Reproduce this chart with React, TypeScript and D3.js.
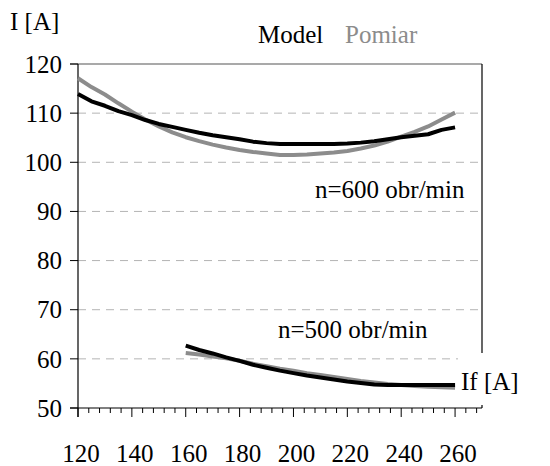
import * as d3 from 'd3'

// current I [A] vs field current If [A]
const ifModel600 = [120, 125, 130, 135, 140, 145, 150, 155, 160, 165, 170, 175, 180, 185, 190, 195, 200, 205, 210, 215, 220, 225, 230, 235, 240, 245, 250, 255, 260]
const model600 = [113.9, 112.4, 111.5, 110.4, 109.6, 108.6, 107.8, 107.2, 106.6, 106.0, 105.5, 105.1, 104.7, 104.2, 103.9, 103.7, 103.7, 103.7, 103.7, 103.7, 103.8, 104.0, 104.3, 104.7, 105.1, 105.4, 105.7, 106.6, 107.1]
const pomiar600 = [117.1, 115.3, 113.8, 112.0, 110.3, 108.7, 107.3, 106.1, 105.1, 104.3, 103.6, 103.0, 102.5, 102.1, 101.8, 101.5, 101.5, 101.6, 101.8, 102.0, 102.3, 102.8, 103.4, 104.2, 105.2, 106.2, 107.3, 108.7, 110.1]

const if500 = [160, 165, 170, 175, 180, 185, 190, 195, 200, 205, 210, 215, 220, 225, 230, 235, 240, 245, 250, 255, 260]
const model500 = [62.7, 61.8, 61.1, 60.3, 59.6, 58.8, 58.2, 57.6, 57.1, 56.6, 56.2, 55.8, 55.4, 55.1, 54.8, 54.7, 54.7, 54.7, 54.7, 54.7, 54.7]
const pomiar500 = [61.2, 60.9, 60.5, 60.1, 59.6, 59.0, 58.5, 58.0, 57.6, 57.1, 56.7, 56.3, 55.9, 55.5, 55.2, 54.9, 54.7, 54.5, 54.3, 54.2, 54.1]

const yTicks = [50, 60, 70, 80, 90, 100, 110, 120]
const xLabels = [120, 140, 160, 180, 200, 220, 240, 260]

const FONT = '"Liberation Serif", "Times New Roman", serif'

export default function App() {
  const x = d3.scaleLinear().domain([120, 270]).range([78, 482])
  const y = d3.scaleLinear().domain([50, 120]).range([408, 64])

  const line = (xs: number[]) =>
    d3.line<number>()
      .x((_, i) => x(xs[i]))
      .y(d => y(d))

  const minorTicks = d3.range(120, 270, 4)

  return (
    <svg width={550} height={466} style={{ position: 'absolute', left: 0, top: 0, background: '#fff' }}>
      {/* grid */}
      {yTicks.filter(t => t > 50 && t < 120).map(t => (
        <line key={t} x1={78} x2={482} y1={y(t)} y2={y(t)} stroke='#b4b4b4' strokeWidth={1} strokeDasharray='8,6' />
      ))}

      {/* frame */}
      <line x1={70} x2={482} y1={64} y2={64} stroke='#555' strokeWidth={1.2} />
      <line x1={482} x2={482} y1={64} y2={408} stroke='#000' strokeWidth={1.2} />

      {/* y axis */}
      <line x1={78} x2={78} y1={64} y2={417} stroke='#000' strokeWidth={1.2} />
      {yTicks.map(t => (
        <g key={t}>
          <line x1={70} x2={78} y1={y(t)} y2={y(t)} stroke='#000' strokeWidth={1} />
          <text x={62} y={y(t)} dy='0.35em' textAnchor='end' fontFamily={FONT} fontSize={25}>{t}</text>
        </g>
      ))}

      {/* series */}
      <path d={line(ifModel600)(pomiar600) ?? ''} fill='none' stroke='#8c8c8c' strokeWidth={4} strokeLinejoin='round' />
      <path d={line(ifModel600)(model600) ?? ''} fill='none' stroke='#000' strokeWidth={4} strokeLinejoin='round' />
      <path d={line(if500)(pomiar500) ?? ''} fill='none' stroke='#8c8c8c' strokeWidth={4} strokeLinejoin='round' />
      <path d={line(if500)(model500) ?? ''} fill='none' stroke='#000' strokeWidth={4} strokeLinejoin='round' />

      {/* x axis label box */}
      <rect x={458} y={353} width={92} height={52} fill='#fff' />
      <text x={461} y={390} fontFamily={FONT} fontSize={25}>If [A]</text>

      {/* x axis */}
      <line x1={70} x2={482} y1={408} y2={408} stroke='#000' strokeWidth={1.2} />
      {minorTicks.map(t => (
        <line key={t} x1={x(t)} x2={x(t)} y1={408} y2={t % 20 === 0 ? 417 : 413} stroke='#000' strokeWidth={1} />
      ))}
      {xLabels.map(t => (
        <text key={t} x={x(t) + 3} y={462} textAnchor='middle' fontFamily={FONT} fontSize={25}>{t}</text>
      ))}

      {/* titles & annotations */}
      <text x={10} y={30} fontFamily={FONT} fontSize={25}>I [A]</text>
      <text x={258} y={43} fontFamily={FONT} fontSize={25} fill='#000'>Model</text>
      <text x={345} y={43} fontFamily={FONT} fontSize={25} fill='#8c8c8c'>Pomiar</text>
      <text x={315} y={198} fontFamily={FONT} fontSize={25}>n=600 obr/min</text>
      <text x={278} y={338} fontFamily={FONT} fontSize={25}>n=500 obr/min</text>
    </svg>
  )
}
